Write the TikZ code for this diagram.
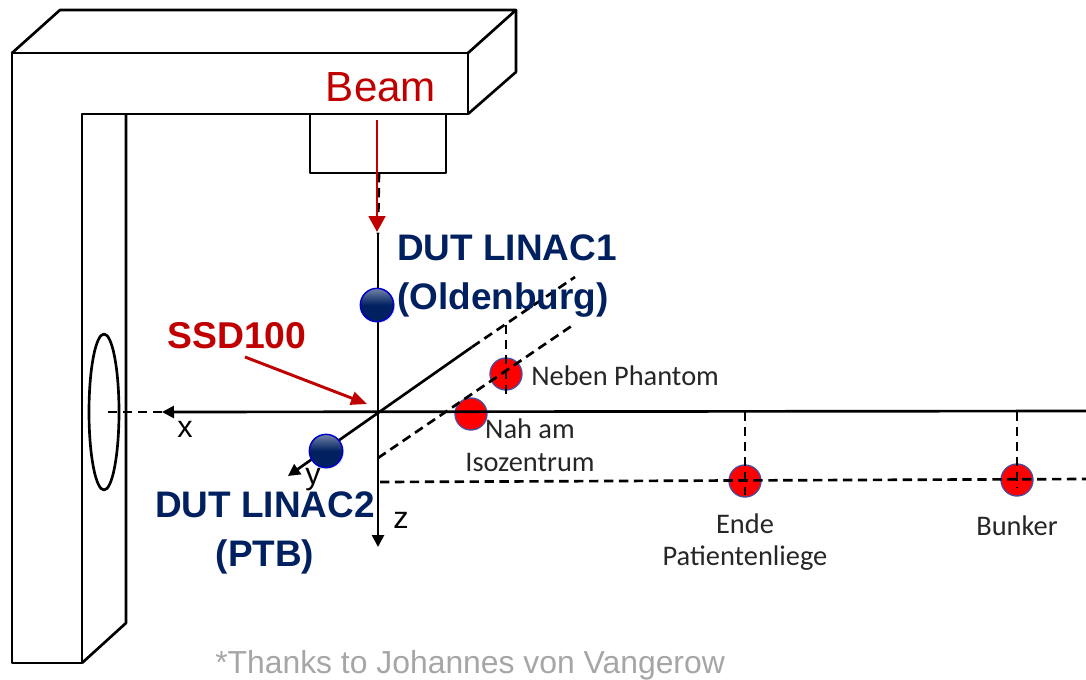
\documentclass[tikz,border=0pt]{standalone}
\usepackage{fontspec}
\setmainfont{Liberation Sans}
\newfontfamily\labelfont{Carlito}
\usepackage{color}
\usetikzlibrary{positioning}
\usetikzlibrary{arrows.meta}
\usetikzlibrary{shadows}
\definecolor{beamred}{HTML}{C00000}
\definecolor{dutblue}{HTML}{002060}
\tikzset{frameline/.style={draw=black, line width=2pt, line join=round}}
\tikzset{axisline/.style={draw=black, line width=2pt}}
\tikzset{axisdash/.style={draw=black, line width=2pt, dash pattern=on 7pt off 4.2pt}}
\tikzset{axisarrow/.style={axisline, -{Triangle[length=9pt,width=9pt]}}}
\tikzset{beamarrow/.style={draw=beamred, fill=beamred, line width=2.2pt, -{Triangle[length=12pt,width=12.5pt]}}}
\tikzset{reddot/.style={circle, draw=blue!45!black!70, fill=red, line width=1pt, minimum size=24pt, inner sep=0pt}}
\tikzset{bluedot/.style={circle, draw=blue!80!black, top color=dutblue!55!white, bottom color=dutblue, middle color=dutblue, line width=1.1pt, minimum size=25pt, inner sep=0pt, drop shadow={shadow xshift=1pt, shadow yshift=-1pt, opacity=0.25}}}
\tikzset{dutlabel/.style={text=dutblue, font=\bfseries\fontsize{27.7}{36}\selectfont, inner sep=0pt}}
\tikzset{placelabel/.style={text=black!85, font=\labelfont\fontsize{21.3}{24.5}\selectfont, inner sep=0pt, align=center}}
\tikzset{axislabel/.style={text=black, font=\fontsize{23}{23}\selectfont, inner sep=0pt}}
\begin{document}
\begin{tikzpicture}[x=0.75pt, y=-0.75pt]
    \useasboundingbox (0,0) rectangle (1086,679);

    % gantry
    \draw[frameline] (12,53) -- (468,53) -- (468,114) -- (82,114) -- (82,663) -- (12,663) -- cycle;
    \draw[frameline] (12,53) -- (60,10) -- (516,10) -- (468,53);
    \draw[frameline] (516,10) -- (516,72) -- (468,114);
    \draw[frameline] (126,114) -- (126,623) -- (82,663);
    \draw[frameline] (310,114) -- (310,173) -- (446,173) -- (446,114);
    \draw[frameline] (104,412) ellipse (15 and 78);

    % points on the axes
    \coordinate (origin)   at (378,412);
    \coordinate (headend)  at (379,173);
    \coordinate (zstart)   at (378,234);
    \coordinate (zend)     at (378,547);
    \coordinate (xright)   at (1086,411);
    \coordinate (xarrow)   at (162,412);
    \coordinate (xleft)    at (103,412);
    \coordinate (yarrow)   at (288,476);
    \coordinate (ysolid)   at (472,347);
    \coordinate (yfar)     at (575,277);
    \coordinate (tablea)   at (378,458);
    \coordinate (tableb)   at (573,325);
    \coordinate (floora)   at (380,482);
    \coordinate (floorb)   at (1086,479);

    \node[reddot] (neben)  at (506,374) {};
    \node[reddot] (nah)    at (471,414) {};
    \node[reddot] (ende)   at (745,481) {};
    \node[reddot] (bunker) at (1017,480) {};

    % axes
    \draw[axisdash] (headend) -- (zstart);
    \draw[axisarrow] (zstart) -- (zend);
    \draw[axisarrow] (xright) -- (xarrow);
    \draw[axisdash] (xarrow) -- (xleft);
    \draw[axisarrow] (ysolid) -- (yarrow);
    \draw[axisdash] (ysolid) -- (yfar);
    \draw[axisdash] (tablea) -- (tableb);
    \draw[axisdash] (floora) -- (floorb);

    % drops to the points
    \draw[axisdash] (506,325) -- (neben.center) -- (506,398);
    \draw[axisdash] (745,412) -- (ende.center) -- (745,495);
    \draw[axisdash] (1017,412) -- (bunker.center) -- (1017,487);

    \node[bluedot] (dutone) at (377,305) {};
    \node[bluedot] (duttwo) at (326,451) {};

    % beam
    \node[text=beamred, font=\fontsize{31.6}{32}\selectfont, inner sep=0pt] (beam) at (381,87) {Beam};
    \coordinate (beamstart) at (377,120);
    \coordinate (beamend)   at (377,232);
    \draw[beamarrow] (beamstart) -- (beamend);

    \node[text=beamred, font=\bfseries\fontsize{28}{28}\selectfont, inner sep=0pt] (ssd) at (237,336) {SSD100};
    \coordinate (ssdstart) at (245,357);
    \coordinate (ssdend)   at (367,404);
    \draw[beamarrow, -{Triangle[length=12pt,width=10pt]}] (ssdstart) -- (ssdend);

    % labels
    \node[dutlabel, anchor=west] (linacone) at (397,248) {DUT LINAC1};
    \node[dutlabel, anchor=west] (oldenburg) at (397,300) {(Oldenburg)};
    \node[dutlabel] (linactwo) at (265,505) {DUT LINAC2};
    \node[dutlabel] (ptb) at (265,557) {(PTB)};

    \node[placelabel, anchor=west] (nebentext) at (531,376) {Neben Phantom};
    \node[placelabel] (nahtext) at (530,445) {Nah am\\Isozentrum};
    \node[placelabel] (endetext) at (745,542) {Ende\\Patientenliege};
    \node[placelabel] (bunkertext) at (1017,526) {Bunker};

    \node[axislabel] (xlabel) at (185,429) {x};
    \node[axislabel] (ylabel) at (313,480) {y};
    \node[axislabel] (zlabel) at (401,520) {z};

    \node[text=black!35, font=\fontsize{23.9}{24}\selectfont, inner sep=0pt, anchor=west] (thanks) at (215,665) {*Thanks to Johannes von Vangerow};
\end{tikzpicture}
\end{document}
